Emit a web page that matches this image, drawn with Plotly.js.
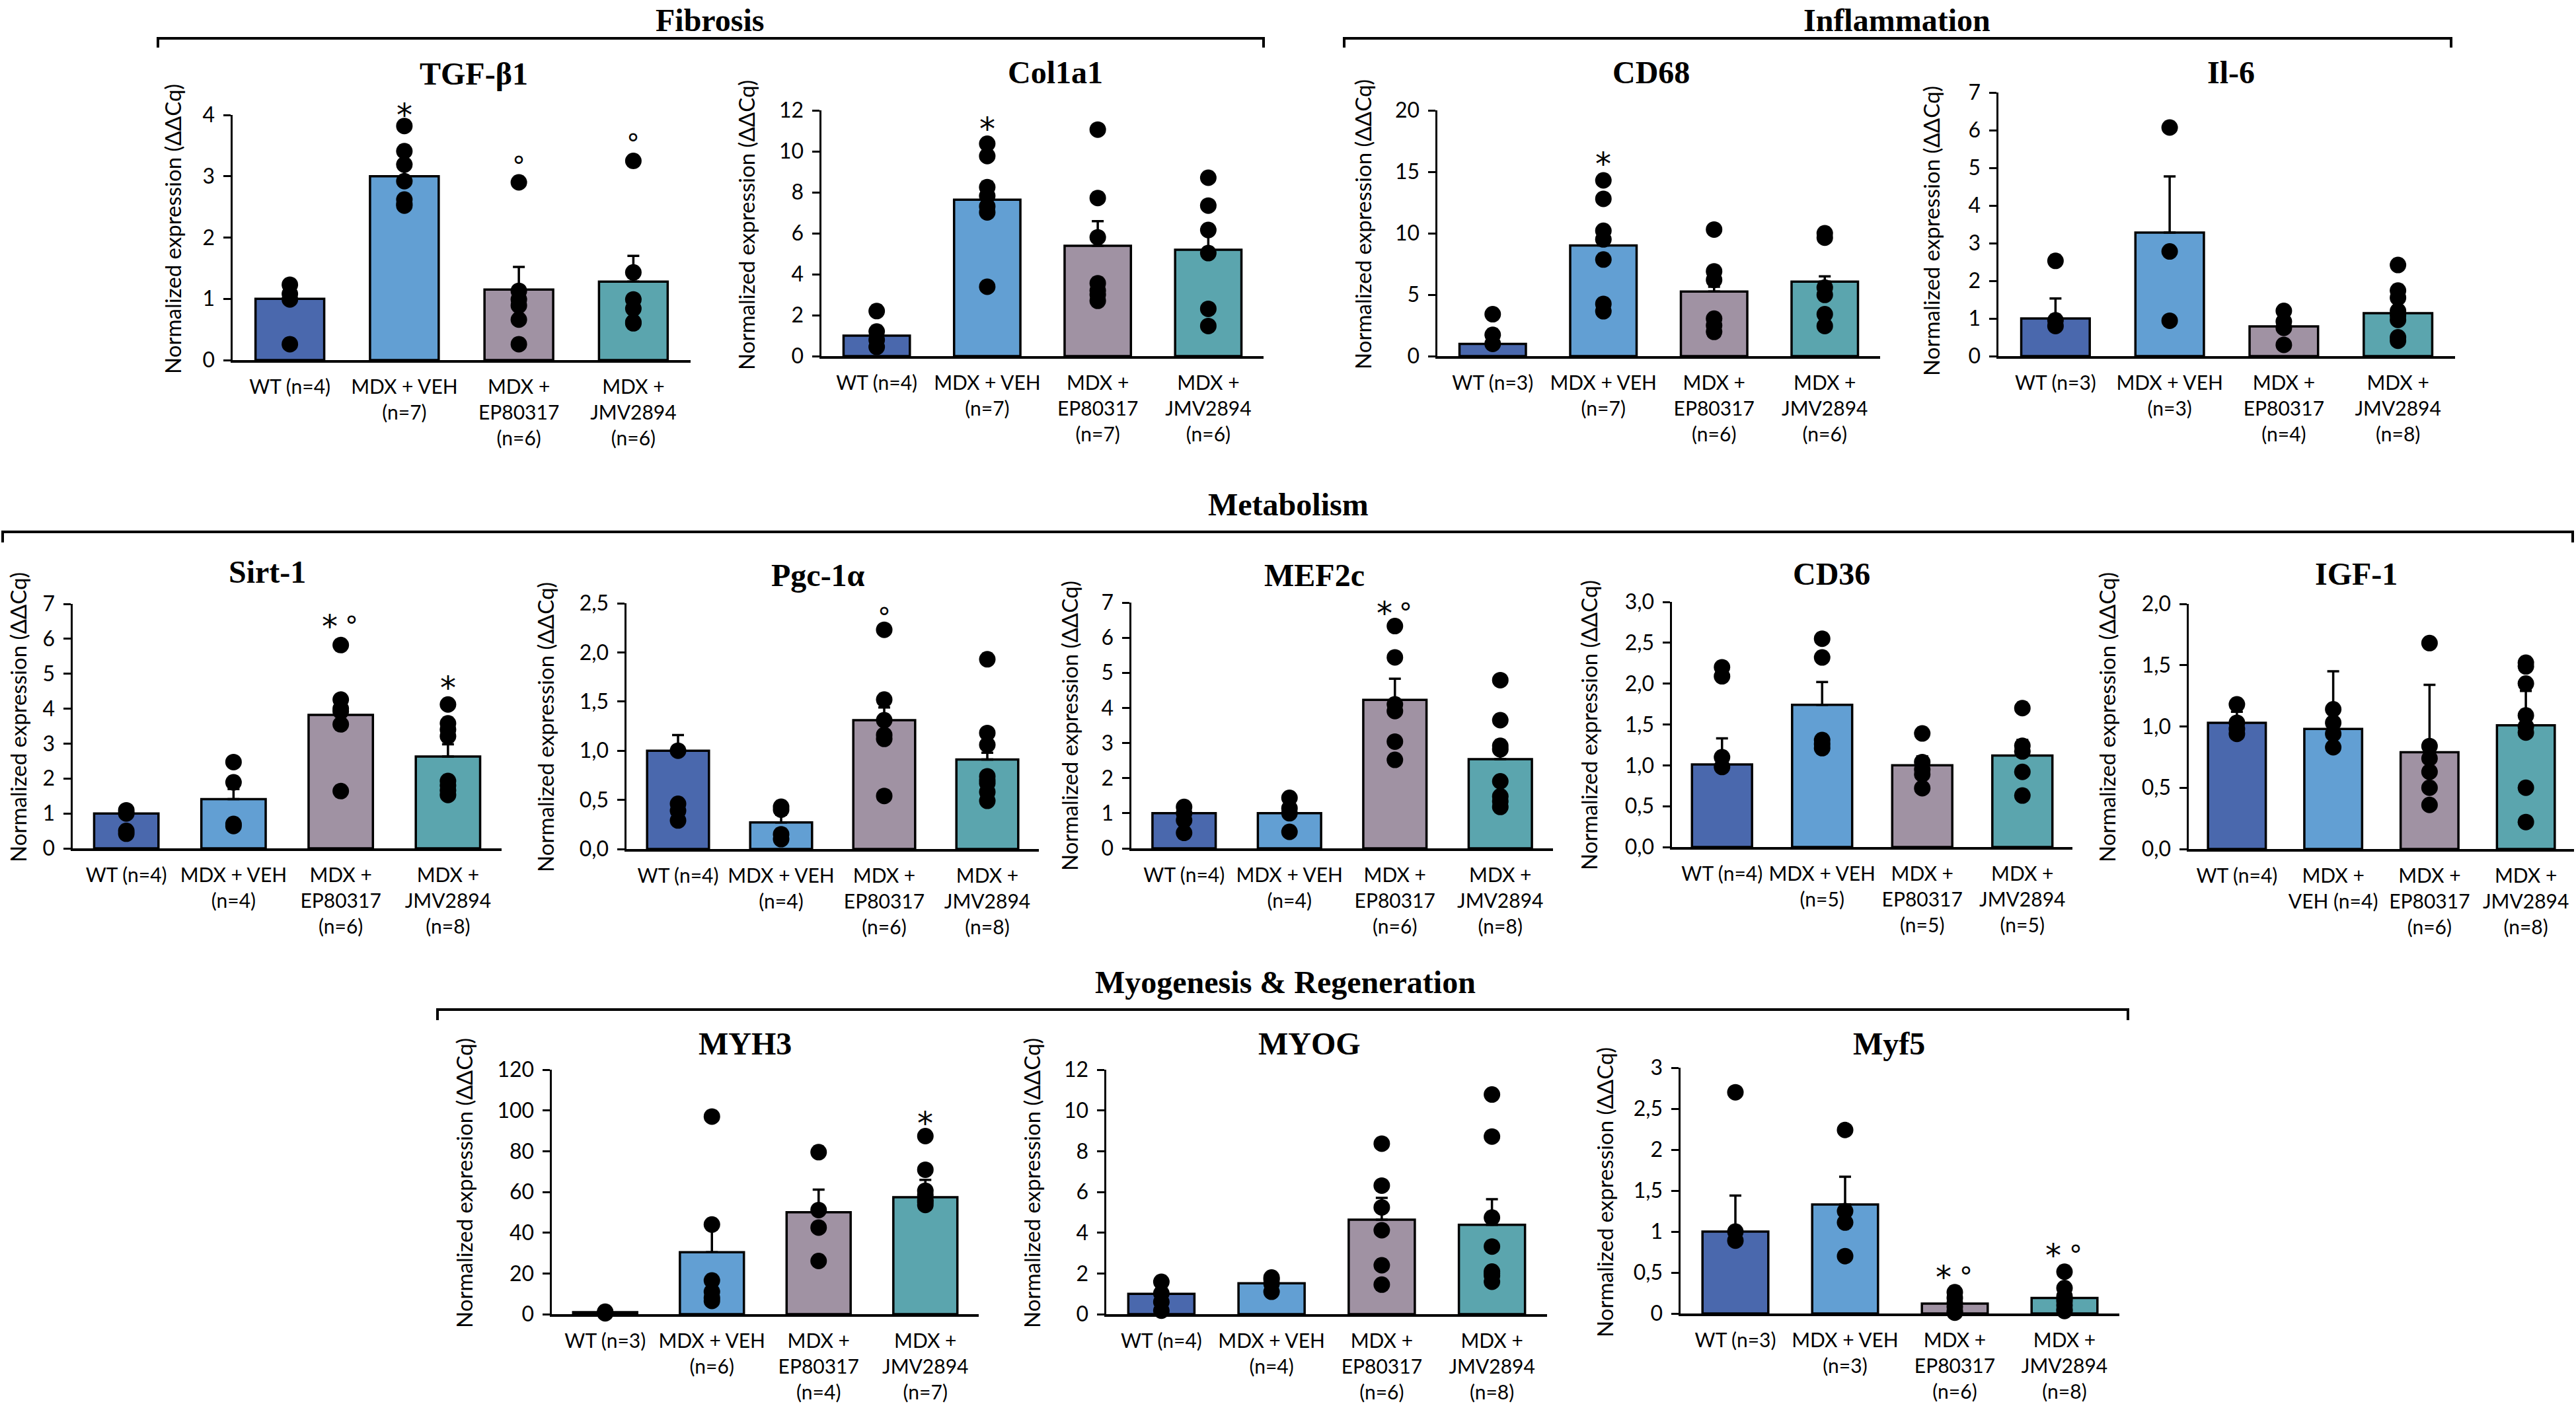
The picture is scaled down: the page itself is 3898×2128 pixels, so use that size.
<!DOCTYPE html>
<html><head><meta charset="utf-8">
<script src="https://cdn.plot.ly/plotly-3.0.1.min.js"></script>
<style>html,body{margin:0;padding:0;background:#fff;}#chart{width:3898px;height:2128px;}</style>
</head><body><div id="chart"></div>
<script>
// ---------------- DATA ----------------
const groupColors = ['#4A68AD', '#629FD3', '#A092A3', '#5BA5AE'];

// TGF-β1
const tgfTicks = ["WT (n=4)", "MDX + VEH<br>(n=7)", "MDX +<br>EP80317<br>(n=6)", "MDX +<br>JMV2894<br>(n=6)"];
const tgfMean = [1.0, 3.0, 1.15, 1.28];
const tgfSem = [0.12, 0.17, 0.37, 0.42];
const tgfPoints = [[1.23, 1.08, 0.99, 0.26], [3.82, 3.41, 3.19, 2.92, 2.62, 2.55, 2.52], [2.90, 1.13, 0.99, 0.89, 0.66, 0.26], [3.25, 1.43, 0.99, 0.84, 0.62, 0.60]];
const tgfMarks = ["", "*", "°", "°"];
const tgfMarkY = [0, 4.13, 3.29, 3.65];

// Col1a1
const colTicks = ["WT (n=4)", "MDX + VEH<br>(n=7)", "MDX +<br>EP80317<br>(n=7)", "MDX +<br>JMV2894<br>(n=6)"];
const colMean = [1.0, 7.64, 5.39, 5.19];
const colSem = [0.4, 0.87, 1.2, 0.97];
const colPoints = [[2.2, 1.2, 0.8, 0.45], [10.37, 9.77, 8.25, 7.82, 7.31, 7.02, 3.39], [11.06, 7.72, 5.8, 3.56, 3.2, 3.0, 2.7], [8.71, 7.35, 6.16, 5.03, 2.31, 1.47]];
const colMarks = ["", "*", "", ""];
const colMarkY = [0, 11.5, 0, 0];

// CD68
const cd68Ticks = ["WT (n=3)", "MDX + VEH<br>(n=7)", "MDX +<br>EP80317<br>(n=6)", "MDX +<br>JMV2894<br>(n=6)"];
const cd68Mean = [1.0, 9.0, 5.26, 6.06];
const cd68Sem = [0.75, 1.4, 0.39, 0.43];
const cd68Points = [[3.41, 1.73, 1.0], [14.3, 12.8, 10.2, 9.5, 7.86, 4.25, 3.65], [10.3, 6.9, 6.2, 3.05, 2.5, 1.97], [10.0, 9.64, 5.58, 4.98, 3.41, 2.45]];
const cd68Marks = ["", "*", "", ""];
const cd68MarkY = [0, 16.3, 0, 0];

// Il-6
const il6Ticks = ["WT (n=3)", "MDX + VEH<br>(n=3)", "MDX +<br>EP80317<br>(n=4)", "MDX +<br>JMV2894<br>(n=8)"];
const il6Mean = [1.0, 3.28, 0.79, 1.14];
const il6Sem = [0.53, 1.49, 0.15, 0.17];
const il6Points = [[2.53, 0.95, 0.8], [6.07, 2.78, 0.94], [1.2, 0.92, 0.75, 0.3], [2.42, 1.74, 1.55, 1.2, 1.08, 0.96, 0.5, 0.41]];
const il6Marks = ["", "", "", ""];
const il6MarkY = [0, 0, 0, 0];

// Sirt-1
const sirtTicks = ["WT (n=4)", "MDX + VEH<br>(n=4)", "MDX +<br>EP80317<br>(n=6)", "MDX +<br>JMV2894<br>(n=8)"];
const sirtMean = [1.0, 1.41, 3.82, 2.63];
const sirtSem = [0.15, 0.29, 0.56, 0.35];
const sirtPoints = [[1.09, 1.0, 0.5, 0.42], [2.47, 1.89, 0.7, 0.64], [5.82, 4.26, 4.0, 3.92, 3.55, 1.64], [4.12, 3.58, 3.4, 3.21, 1.93, 1.8, 1.66, 1.53]];
const sirtMarks = ["", "", "* °", "*"];
const sirtMarkY = [0, 0, 6.58, 4.83];

// Pgc-1α
const pgcTicks = ["WT (n=4)", "MDX + VEH<br>(n=4)", "MDX +<br>EP80317<br>(n=6)", "MDX +<br>JMV2894<br>(n=8)"];
const pgcMean = [1.0, 0.27, 1.31, 0.91];
const pgcSem = [0.16, 0.08, 0.13, 0.07];
const pgcPoints = [[1.0, 0.46, 0.39, 0.29], [0.43, 0.4, 0.15, 0.1], [2.23, 1.52, 1.31, 1.16, 1.12, 0.54], [1.93, 1.18, 1.06, 0.74, 0.7, 0.67, 0.58, 0.49]];
const pgcMarks = ["", "", "°", ""];
const pgcMarkY = [0, 0, 2.43, 0];

// MEF2c
const mefTicks = ["WT (n=4)", "MDX + VEH<br>(n=4)", "MDX +<br>EP80317<br>(n=6)", "MDX +<br>JMV2894<br>(n=8)"];
const mefMean = [1.0, 1.0, 4.23, 2.54];
const mefSem = [0.15, 0.24, 0.6, 0.17];
const mefPoints = [[1.18, 1.0, 0.8, 0.44], [1.44, 1.14, 1.0, 0.47], [6.33, 5.44, 4.1, 3.91, 3.04, 2.52], [4.79, 3.65, 2.92, 2.82, 1.91, 1.48, 1.34, 1.18]];
const mefMarks = ["", "", "* °", ""];
const mefMarkY = [0, 0, 6.92, 0];

// CD36
const cd36Ticks = ["WT (n=4)", "MDX + VEH<br>(n=5)", "MDX +<br>EP80317<br>(n=5)", "MDX +<br>JMV2894<br>(n=5)"];
const cd36Mean = [1.01, 1.74, 1.0, 1.12];
const cd36Sem = [0.32, 0.28, 0.11, 0.19];
const cd36Points = [[2.2, 2.09, 1.1, 0.98], [2.55, 2.32, 1.31, 1.26, 1.21], [1.39, 1.04, 0.95, 0.89, 0.72], [1.7, 1.24, 1.17, 0.92, 0.63]];
const cd36Marks = ["", "", "", ""];
const cd36MarkY = [0, 0, 0, 0];

// IGF-1
const igfTicks = ["WT (n=4)", "MDX +<br>VEH (n=4)", "MDX +<br>EP80317<br>(n=6)", "MDX +<br>JMV2894<br>(n=8)"];
const igfMean = [1.03, 0.98, 0.79, 1.01];
const igfSem = [0.09, 0.47, 0.55, 0.28];
const igfPoints = [[1.18, 1.03, 0.98, 0.94], [1.14, 1.03, 0.94, 0.83], [1.68, 0.84, 0.74, 0.63, 0.5, 0.36], [1.52, 1.49, 1.35, 1.09, 1.0, 0.95, 0.5, 0.22]];
const igfMarks = ["", "", "", ""];
const igfMarkY = [0, 0, 0, 0];

// MYH3
const myh3Ticks = ["WT (n=3)", "MDX + VEH<br>(n=6)", "MDX +<br>EP80317<br>(n=4)", "MDX +<br>JMV2894<br>(n=7)"];
const myh3Mean = [1.0, 30.4, 50.0, 57.4];
const myh3Sem = [0.4, 14.0, 11.1, 8.5];
const myh3Points = [[1.2, 0.8, 0.4], [97, 44, 16.5, 11, 8, 6.5], [79.5, 51.1, 42.5, 26.1], [87.4, 70.9, 60.6, 58.5, 56, 55, 53.6]];
const myh3Marks = ["", "", "", "*"];
const myh3MarkY = [0, 0, 0, 97.6];

// MYOG
const myogTicks = ["WT (n=4)", "MDX + VEH<br>(n=4)", "MDX +<br>EP80317<br>(n=6)", "MDX +<br>JMV2894<br>(n=8)"];
const myogMean = [1.0, 1.52, 4.64, 4.39];
const myogSem = [0.3, 0.25, 1.07, 1.25];
const myogPoints = [[1.59, 1.02, 0.6, 0.17], [1.8, 1.7, 1.5, 1.1], [8.37, 6.31, 5.24, 4.12, 2.4, 1.45], [10.78, 8.72, 4.74, 3.32, 2.09, 2.0, 1.88, 1.59]];
const myogMarks = ["", "", "", ""];
const myogMarkY = [0, 0, 0, 0];

// Myf5
const myf5Ticks = ["WT (n=3)", "MDX + VEH<br>(n=3)", "MDX +<br>EP80317<br>(n=6)", "MDX +<br>JMV2894<br>(n=8)"];
const myf5Mean = [1.0, 1.33, 0.12, 0.19];
const myf5Sem = [0.44, 0.34, 0.04, 0.06];
const myf5Points = [[2.7, 1.0, 0.89], [2.24, 1.25, 1.11, 0.7], [0.26, 0.19, 0.13, 0.08, 0.03, 0.01], [0.51, 0.31, 0.21, 0.18, 0.15, 0.1, 0.05, 0.03]];
const myf5Marks = ["", "", "* °", "* °"];
const myf5MarkY = [0, 0, 0.54, 0.81];

const yAxisTitle = "Normalized expression (ΔΔCq)";
const groupHeaders = ["Fibrosis", "Inflammation", "Metabolism", "Myogenesis & Regeneration"];

// ---------------- LAYOUT CONFIG (pixel geometry) ----------------
const W = 3898, H = 2128;
const panels = [
  {title: 'TGF-β1', mean: tgfMean, sem: tgfSem, pts: tgfPoints, ticks: tgfTicks, marks: tgfMarks, markY: tgfMarkY, box: [352, 1045, 174, 545], ymax: 4, dtick: 1, fmt: '', tpos: [717, 112], ypos: [261, 347]},
  {title: 'Col1a1', mean: colMean, sem: colSem, pts: colPoints, ticks: colTicks, marks: colMarks, markY: colMarkY, box: [1243, 1912, 167, 539], ymax: 12, dtick: 2, fmt: '', tpos: [1597, 109], ypos: [1129, 341]},
  {title: 'CD68', mean: cd68Mean, sem: cd68Sem, pts: cd68Points, ticks: cd68Ticks, marks: cd68Marks, markY: cd68MarkY, box: [2175, 2845, 167, 539], ymax: 20, dtick: 5, fmt: '', tpos: [2498, 109], ypos: [2062, 340]},
  {title: 'Il-6', mean: il6Mean, sem: il6Sem, pts: il6Points, ticks: il6Ticks, marks: il6Marks, markY: il6MarkY, box: [3024, 3715, 140, 539], ymax: 7, dtick: 1, fmt: '', tpos: [3376, 109], ypos: [2922, 350]},
  {title: 'Sirt-1', mean: sirtMean, sem: sirtSem, pts: sirtPoints, ticks: sirtTicks, marks: sirtMarks, markY: sirtMarkY, box: [110, 759, 914, 1284], ymax: 7, dtick: 1, fmt: '', tpos: [404, 866], ypos: [27, 1086]},
  {title: 'Pgc-1α', mean: pgcMean, sem: pgcSem, pts: pgcPoints, ticks: pgcTicks, marks: pgcMarks, markY: pgcMarkY, box: [948, 1572, 913, 1285], ymax: 2.5, dtick: 0.5, fmt: '.1f', tpos: [1238, 870], ypos: [825, 1101]},
  {title: 'MEF2c', mean: mefMean, sem: mefSem, pts: mefPoints, ticks: mefTicks, marks: mefMarks, markY: mefMarkY, box: [1712, 2350, 912, 1284], ymax: 7, dtick: 1, fmt: '', tpos: [1989, 870], ypos: [1618, 1099]},
  {title: 'CD36', mean: cd36Mean, sem: cd36Sem, pts: cd36Points, ticks: cd36Ticks, marks: cd36Marks, markY: cd36MarkY, box: [2530, 3136, 911, 1282], ymax: 3, dtick: 0.5, fmt: '.1f', tpos: [2771, 868], ypos: [2404, 1098]},
  {title: 'IGF-1', mean: igfMean, sem: igfSem, pts: igfPoints, ticks: igfTicks, marks: igfMarks, markY: igfMarkY, box: [3312, 3895, 914, 1285], ymax: 2, dtick: 0.5, fmt: '.1f', tpos: [3565, 868], ypos: [3188, 1086]},
  {title: 'MYH3', mean: myh3Mean, sem: myh3Sem, pts: myh3Points, ticks: myh3Ticks, marks: myh3Marks, markY: myh3MarkY, box: [835, 1481, 1619, 1989], ymax: 120, dtick: 20, fmt: '', tpos: [1127, 1580], ypos: [702, 1791]},
  {title: 'MYOG', mean: myogMean, sem: myogSem, pts: myogPoints, ticks: myogTicks, marks: myogMarks, markY: myogMarkY, box: [1674, 2341, 1619, 1989], ymax: 12, dtick: 2, fmt: '', tpos: [1981, 1580], ypos: [1561, 1791]},
  {title: 'Myf5', mean: myf5Mean, sem: myf5Sem, pts: myf5Points, ticks: myf5Ticks, marks: myf5Marks, markY: myf5MarkY, box: [2543, 3207, 1616, 1988], ymax: 3, dtick: 0.5, fmt: '', tpos: [2858, 1580], ypos: [2428, 1805]}
];
const headerPos = [[1074, 30], [2870, 30], [1949, 763], [1945, 1486]];
const brackets = [[239, 1912, 58, 72], [2034, 3709, 58, 72], [4, 3893, 805, 821], [662, 3220, 1528, 1544]];

const fx = p => p / W;
const fy = p => 1 - p / H;
const TICKFONT = 'Lato, "Open Sans", sans-serif';
const MARKFONT = '"DejaVu Sans", sans-serif';
const SERIF = '"Liberation Serif", "Times New Roman", serif';

const traces = [];
const annotations = [];
const shapes = [];
const layout = {
  width: W, height: H,
  margin: {l: 0, r: 0, t: 0, b: 0},
  paper_bgcolor: '#ffffff', plot_bgcolor: 'rgba(0,0,0,0)',
  showlegend: false,
  separators: ', ',
  font: {family: TICKFONT, color: '#000'},
  bargap: 0.4
};

panels.forEach((p, i) => {
  const n = i + 1;
  const xs = n === 1 ? '' : String(n);
  const xa = 'x' + xs, ya = 'y' + xs;
  layout['xaxis' + xs] = {
    domain: [fx(p.box[0]), fx(p.box[1])], anchor: ya,
    range: [-0.5, 3.5], tickvals: [0, 1, 2, 3], ticktext: p.ticks,
    showline: true, linecolor: '#000', linewidth: 4,
    ticks: '', showgrid: false, zeroline: false,
    tickfont: {family: TICKFONT, size: 30, color: '#000'},
    ticklabelstandoff: 11, fixedrange: true
  };
  layout['yaxis' + xs] = {
    domain: [fy(p.box[3]), fy(p.box[2])], anchor: xa,
    range: [0, p.ymax], tick0: 0, dtick: p.dtick, tickformat: p.fmt,
    showline: true, linecolor: '#000', linewidth: 3.5,
    ticks: 'outside', ticklen: 11, tickwidth: 3, tickcolor: '#000',
    showgrid: false, zeroline: false,
    tickfont: {family: TICKFONT, size: 32, color: '#000'},
    ticklabelstandoff: 6, fixedrange: true
  };
  traces.push({
    type: 'bar', x: [0, 1, 2, 3], y: p.mean, width: 0.6,
    xaxis: xa, yaxis: ya,
    marker: {color: groupColors, line: {color: '#000', width: 3.5}},
    error_y: {type: 'data', symmetric: false, array: p.sem, arrayminus: [0, 0, 0, 0], color: '#000', thickness: 3.5, width: 9},
    hoverinfo: 'skip'
  });
  const px = [], py = [];
  p.pts.forEach((arr, gi) => arr.forEach(v => { px.push(gi); py.push(v); }));
  traces.push({
    type: 'scatter', mode: 'markers', x: px, y: py, xaxis: xa, yaxis: ya,
    marker: {color: '#000', size: 25, line: {width: 0}}, cliponaxis: false, hoverinfo: 'skip'
  });
  // title
  annotations.push({
    xref: 'paper', yref: 'paper', x: fx(p.tpos[0]), y: fy(p.tpos[1]),
    xanchor: 'center', yanchor: 'middle', showarrow: false,
    text: '<b>' + p.title + '</b>', font: {family: SERIF, size: 48, color: '#000'}
  });
  // y axis title
  annotations.push({
    xref: 'paper', yref: 'paper', x: fx(p.ypos[0]), y: fy(p.ypos[1]),
    xanchor: 'center', yanchor: 'middle', showarrow: false, textangle: -90,
    text: yAxisTitle, font: {family: TICKFONT, size: 33, color: '#000'}
  });
  // significance marks (y given in data units, placed via the panel's vertical extent)
  const yBottom = fy(p.box[3]), yTop = fy(p.box[2]);
  p.marks.forEach((m, gi) => {
    if (!m) return;
    const ypaper = yBottom + (p.markY[gi] / p.ymax) * (yTop - yBottom);
    const parts = m.split(' ');
    const offs = parts.length === 2 ? [-0.1, 0.1] : [0];
    parts.forEach((s, k) => {
      annotations.push({
        xref: xa, yref: 'paper', x: gi + offs[k], y: ypaper, xanchor: 'center', yanchor: 'middle',
        showarrow: false, text: s, yshift: -12,
        font: {family: MARKFONT, size: s === '*' ? 48 : 40, color: '#000'}
      });
    });
  });
});

groupHeaders.forEach((h, i) => {
  annotations.push({
    xref: 'paper', yref: 'paper', x: fx(headerPos[i][0]), y: fy(headerPos[i][1]),
    xanchor: 'center', yanchor: 'middle', showarrow: false,
    text: '<b>' + h + '</b>', font: {family: SERIF, size: 48, color: '#000'}
  });
});
brackets.forEach(b => {
  shapes.push({
    type: 'path', xref: 'paper', yref: 'paper',
    path: `M ${fx(b[0])},${fy(b[3])} L ${fx(b[0])},${fy(b[2])} L ${fx(b[1])},${fy(b[2])} L ${fx(b[1])},${fy(b[3])}`,
    line: {color: '#000', width: 4}
  });
});

layout.annotations = annotations;
layout.shapes = shapes;
Plotly.newPlot('chart', traces, layout, {displayModeBar: false, staticPlot: true});
</script>
</body></html>
